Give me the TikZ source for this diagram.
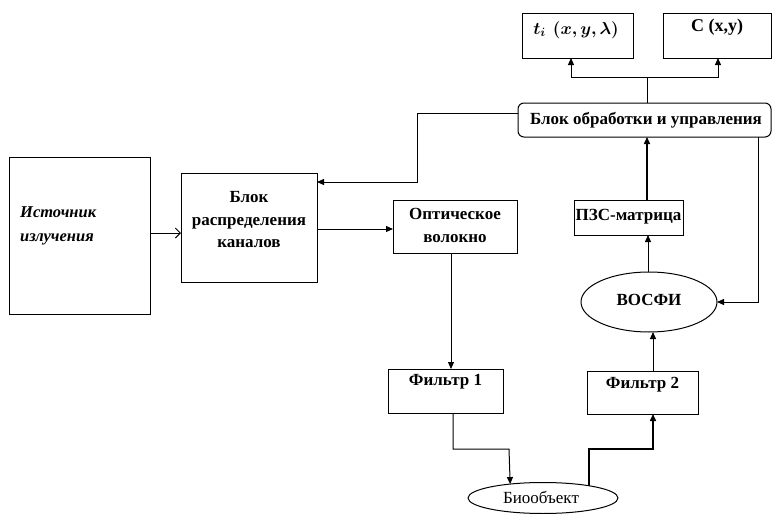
\documentclass[tikz,border=0pt]{standalone}
\usepackage{fontspec}
\usepackage{amsmath,bm}
\setmainfont{Liberation Serif}
\usetikzlibrary{arrows.meta,shapes.geometric}
\begin{document}
\begin{tikzpicture}[x=1pt,y=-1pt,
  box/.style={draw, line width=1pt, inner sep=0pt, outer sep=0pt},
  ell/.style={draw, ellipse, line width=1pt, inner sep=0pt, outer sep=0pt},
  lbl/.style={font=\fontsize{17}{19}\selectfont\bfseries, align=center, inner sep=0pt},
  wire/.style={line width=1pt},
  arr/.style={line width=1pt, -{Triangle[length=7pt,width=6pt]}},
  thickarr/.style={line width=1.5pt, -{Triangle[length=7pt,width=6pt]}},
  openarr/.style={line width=1pt, -{Straight Barb[length=5pt,width=10pt]}}]
\useasboundingbox (0,0) rectangle (772,514);
% boxes
\node[box, minimum width=141pt, minimum height=157pt] (src) at (79.5,235.5) {};
\node[lbl, font=\fontsize{16.5}{24}\selectfont\bfseries\itshape, align=left, anchor=west] (srct) at (20,226) {Источник\\излучения};
\node[box, minimum width=136pt, minimum height=109pt] (distr) at (249,227.5) {};
\node[lbl, font=\fontsize{17}{22.5}\selectfont\bfseries] (distrt) at (249,220) {Блок\\распределения\\каналов};
\node[box, minimum width=124pt, minimum height=53pt] (fiber) at (455,226.5) {};
\node[lbl, font=\fontsize{17}{23}\selectfont\bfseries] (fibert) at (455,225) {Оптическое\\волокно};
\node[box, minimum width=115pt, minimum height=44pt] (f1) at (445.5,391) {};
\node[lbl] (f1t) at (445.5,382) {Фильтр 1};
\node[box, minimum width=111pt, minimum height=43pt] (f2) at (642.5,392.5) {};
\node[lbl] (f2t) at (642.5,385) {Фильтр 2};
\node[ell, minimum width=150pt, minimum height=31pt] (bio) at (543,498) {};
\node[lbl, font=\fontsize{17}{19}\selectfont] (biot) at (541,497) {Биообъект};
\node[ell, minimum width=136pt, minimum height=60pt] (vosfi) at (649,302) {};
\node[lbl] (vosfit) at (649,300) {ВОСФИ};
\node[box, minimum width=109pt, minimum height=35pt] (ccd) at (628.5,217.5) {};
\node[lbl] (ccdt) at (628.5,217) {ПЗС-матрица};
\node[box, rounded corners=6pt, minimum width=253pt, minimum height=34pt] (proc) at (644.5,120) {};
\node[lbl] (proct) at (646,120) {Блок обработки и управления};
\node[box, minimum width=111pt, minimum height=45pt] (ti) at (577.5,35.5) {};
\node[lbl, font=\fontsize{17}{19}\selectfont] (tit) at (576,30) {$\bm{t_i\ \,(x, y, \lambda)}$};
\node[box, minimum width=108pt, minimum height=45pt] (cxy) at (717,35.5) {};
\node[lbl, font=\fontsize{18}{20}\selectfont\bfseries] (cxyt) at (717,27) {C (x,y)};
% connectors
\draw[openarr] (src.east |- 0,233) -- (distr.west |- 0,233);
\draw[arr] (distr.east |- 0,229) -- (fiber.west |- 0,229);
\draw[arr] (fiber.south -| 451,0) -- (f1.north -| 451,0);
\draw[arr] (f1.south -| 453,0) |- (509,449) -- (bio.157.9);
\draw[thickarr] (bio.15.9) |- (653,449) -- (f2.south -| 653,0);
\draw[arr] (f2.north -| 653,0) -- (vosfi.south -| 653,0);
\draw[arr] (vosfi.north -| 648,0) -- (ccd.south -| 648,0);
\draw[thickarr] (ccd.north -| 647,0) -- (proc.south -| 647,0);
\coordinate (split) at (647,77);
\draw[wire] (proc.north -| split) -- (split);
\draw[arr] (split) -| (ti.south -| 571,0);
\draw[arr] (split) -| (cxy.south -| 718,0);
\draw[arr] (proc.west |- 0,113) -| (417,182) -- (distr.east |- 0,182);
\draw[arr] (proc.south -| 758,0) |- (vosfi.east);
\end{tikzpicture}
\end{document}
